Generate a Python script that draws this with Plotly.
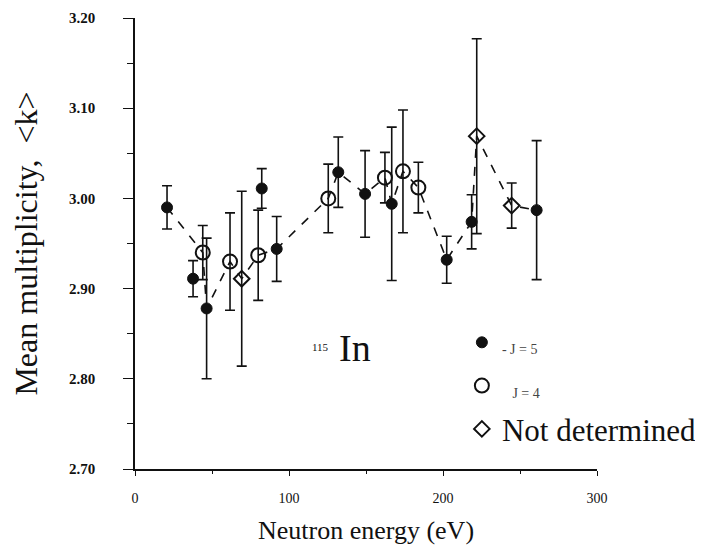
import plotly.graph_objects as go

# J = 5 (filled)
j5_energy = [20.8, 37.7, 46.5, 82.3, 92.0, 132.0, 149.4, 166.7, 202.4, 218.6, 260.8]
j5_mult   = [2.990, 2.911, 2.878, 3.011, 2.944, 3.029, 3.005, 2.994, 2.932, 2.974, 2.987]
j5_err    = [0.024, 0.020, 0.078, 0.022, 0.036, 0.039, 0.048, 0.085, 0.026, 0.030, 0.077]

# J = 4 (open circles)
j4_energy = [44.0, 61.7, 80.0, 125.5, 162.3, 174.0, 184.0]
j4_mult   = [2.940, 2.930, 2.937, 3.000, 3.023, 3.030, 3.012]
j4_err    = [0.030, 0.054, 0.050, 0.038, 0.028, 0.068, 0.028]

# Not determined (open diamonds)
nd_energy = [69.3, 221.9, 244.6]
nd_mult   = [2.911, 3.069, 2.992]
nd_err    = [0.097, 0.108, 0.025]

# dashed guide line
guide_energy = [20.8, 44.0, 46.5, 61.7, 69.3, 80.0, 92.0, 125.5, 132.0, 149.4,
                162.3, 166.7, 174.0, 184.0, 202.4, 218.6, 221.9, 244.6, 260.8]
guide_mult   = [2.990, 2.940, 2.878, 2.930, 2.911, 2.937, 2.944, 3.000, 3.029, 3.005,
                3.023, 2.994, 3.030, 3.012, 2.932, 2.974, 3.069, 2.992, 2.987]

x_ticks = [0, 100, 200, 300]
y_ticks = [2.70, 2.80, 2.90, 3.00, 3.10, 3.20]

SERIF = "Liberation Serif"
BLACK = "#111111"

fig = go.Figure()

fig.add_trace(go.Scatter(
    x=guide_energy, y=guide_mult, mode="lines",
    line=dict(color=BLACK, width=1.6, dash="dash"),
    showlegend=False, hoverinfo="skip"))

def err(e):
    return dict(type="data", array=e, visible=True, color=BLACK, thickness=1.6, width=5)

fig.add_trace(go.Scatter(
    x=j5_energy, y=j5_mult, mode="markers", error_y=err(j5_err),
    marker=dict(symbol="circle", size=11, color=BLACK, line=dict(color=BLACK, width=1)),
    name='<span style="font-size:14px; color:#444">- J = 5</span>'))

fig.add_trace(go.Scatter(
    x=j4_energy, y=j4_mult, mode="markers", error_y=err(j4_err),
    marker=dict(symbol="circle-open", size=14, color=BLACK, line=dict(color=BLACK, width=2)),
    name='<span style="font-size:14px; color:#444">   J = 4</span>'))

fig.add_trace(go.Scatter(
    x=nd_energy, y=nd_mult, mode="markers", error_y=err(nd_err),
    marker=dict(symbol="diamond-open", size=12, color=BLACK, line=dict(color=BLACK, width=2)),
    name="Not determined"))

fig.add_annotation(x=0.402, y=0.253, xref="paper", yref="paper", text="115",
                   showarrow=False, font=dict(family=SERIF, size=11, color=BLACK))
fig.add_annotation(x=0.477, y=0.218, xref="paper", yref="paper", text="In",
                   showarrow=False, font=dict(family=SERIF, size=38, color=BLACK))

fig.update_layout(
    width=703, height=558,
    margin=dict(l=127, r=113, t=10, b=97),
    plot_bgcolor="white", paper_bgcolor="white",
    font=dict(family=SERIF, color=BLACK),
    legend=dict(x=0.706, y=0.34, xanchor="left", yanchor="top",
                bgcolor="rgba(0,0,0,0)", font=dict(family=SERIF, size=31, color=BLACK),
                itemwidth=30, tracegroupgap=0, borderwidth=0),
    xaxis=dict(range=[0, 300], tickvals=x_ticks, ticktext=[str(v) for v in x_ticks],
               automargin=False, ticklabelstandoff=10, ticklabeloverflow="allow",
               showgrid=False, zeroline=False, showline=True, linecolor=BLACK, linewidth=1.5,
               ticks="outside", ticklen=5, tickcolor=BLACK,
               minor=dict(dtick=50, ticks="outside", ticklen=3, tickcolor=BLACK),
               tickfont=dict(family=SERIF, size=14, color=BLACK),
               title=dict(text="Neutron energy (eV)", font=dict(family=SERIF, size=26, color=BLACK),
                          standoff=16)),
    yaxis=dict(range=[2.70, 3.20], tickvals=y_ticks, ticktext=[f"<b>{v:.2f}</b>" for v in y_ticks],
               automargin=False, ticklabelstandoff=25, ticklabeloverflow="allow",
               showgrid=False, zeroline=False, showline=True, linecolor=BLACK, linewidth=1.5,
               ticks="outside", ticklen=10, tickcolor=BLACK,
               minor=dict(dtick=0.05, ticks="outside", ticklen=6, tickcolor=BLACK),
               tickfont=dict(family=SERIF, size=15, color=BLACK),
               title=dict(text="Mean multiplicity,  <k>", font=dict(family=SERIF, size=32, color=BLACK),
                          standoff=48)),
)

fig.write_html("out.html")
